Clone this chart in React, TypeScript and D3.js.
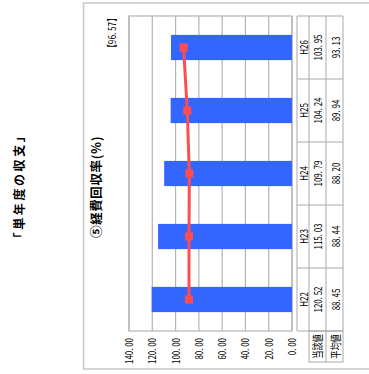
import React from "react";
import * as d3 from "d3";

const categories = ["H22", "H23", "H24", "H25", "H26"];
const actualValues = [120.52, 115.03, 109.79, 104.24, 103.95];
const averageValues = [88.45, 88.44, 88.2, 89.94, 93.13];
const axisTicks = [0, 20, 40, 60, 80, 100, 120, 140];
const seriesNames = ["当該値", "平均値"];
const pageTitle = "「単年度の収支」";
const chartTitle = "⑤経費回収率(%)";
const referenceLabel = "【96. 57】";

const W = 369;
const H = 374;
const FONT = "'Noto Sans CJK JP', 'Noto Sans', sans-serif";
const fmt = (v: number) => d3.format(".2f")(v).replace(".", ". ");

function T({ u, v, children, size = 10, sx = 0.8, anchor = "middle", weight = "normal", ls = 0 }: any) {
  return (
    <text
      transform={`translate(${u},${v}) scale(${sx},1)`}
      textAnchor={anchor}
      fontSize={size}
      fontWeight={weight}
      letterSpacing={ls}
      fontFamily={FONT}
      fill="#000"
    >
      {children}
    </text>
  );
}

export default function App() {
  // unrotated coordinates: u = horizontal, v = vertical; whole drawing rotated -90deg
  const x = d3.scaleBand<string>().domain(categories).range([43, 358]).paddingInner(0.6).paddingOuter(0.3);
  const y = d3.scaleLinear().domain([0, 140]).range([292, 129]);
  const bw = x.bandwidth();
  const step = x.step();
  const cellStart = (c: string) => (x(c) as number) - (step - bw) / 2;
  const [u0, u1] = x.range();
  const line = d3
    .line<number>()
    .x((_, i) => (x(categories[i]) as number) + bw / 2)
    .y((d) => y(d));

  const gridColor = "#b4b4b4";
  const tableColor = "#a8a8a8";
  const rowV = [297, 309, 326, 343];

  return (
    <svg width={W} height={H} style={{ position: "absolute", left: 0, top: 0, background: "#fff" }}>
      <rect x={0} y={0} width={W} height={H} fill="#fff" />
      <g transform={`translate(0,${H}) rotate(-90)`}>
        {/* outer frame */}
        <rect x={5} y={83.5} width={366} height={320} fill="none" stroke="#c8c8c8" strokeWidth={1.5} />
        <T u={188} v={24} size={12} sx={1} weight="bold" ls={2.6}>{pageTitle}</T>
        <T u={187} v={100.5} size={12.5} sx={1} weight="bold" ls={0.6}>{chartTitle}</T>
        <T u={341} v={116} size={10.5} sx={0.78}>{referenceLabel}</T>

        {/* gridlines */}
        {axisTicks.map((t) => (
          <line key={t} x1={u0} x2={u1} y1={y(t)} y2={y(t)} stroke={gridColor} strokeWidth={1.2} />
        ))}
        <rect x={u0} y={y(140)} width={u1 - u0} height={y(0) - y(140)} fill="none" stroke={gridColor} strokeWidth={1.2} />
        {axisTicks.map((t) => (
          <T key={"l" + t} u={36} v={y(t) + 4} size={11} sx={0.72} anchor="end">{fmt(t)}</T>
        ))}

        {/* bars */}
        {categories.map((c, i) => (
          <rect key={c} x={x(c) as number} width={bw} y={y(actualValues[i])} height={y(0) - y(actualValues[i])} fill="#3366ff" />
        ))}
        {/* average line */}
        <path d={line(averageValues) as string} fill="none" stroke="#ff4d4f" strokeWidth={3} />
        {categories.map((c, i) => (
          <rect key={"m" + c} x={(x(c) as number) + bw / 2 - 4} y={y(averageValues[i]) - 4} width={8} height={8} fill="#ff4d4f" />
        ))}

        {/* data table */}
        {rowV.map((v, k) => (
          <line key={"rv" + k} x1={u0} x2={u1} y1={v} y2={v} stroke={tableColor} strokeWidth={1} />
        ))}
        {categories.map((c) => (
          <line key={"cs" + c} x1={cellStart(c)} x2={cellStart(c)} y1={rowV[0]} y2={rowV[3]} stroke={tableColor} strokeWidth={1} />
        ))}
        <line x1={u1} x2={u1} y1={rowV[0]} y2={rowV[3]} stroke={tableColor} strokeWidth={1} />
        {/* legend cells */}
        <rect x={12} y={rowV[1]} width={u0 - 12} height={rowV[3] - rowV[1]} fill="none" stroke={tableColor} strokeWidth={1} />
        <line x1={12} x2={u0} y1={rowV[2]} y2={rowV[2]} stroke={tableColor} strokeWidth={1} />
        <T u={(12 + u0) / 2} v={322} size={11} sx={0.75}>{seriesNames[0]}</T>
        <T u={(12 + u0) / 2} v={339.5} size={11} sx={0.75}>{seriesNames[1]}</T>

        {categories.map((c, i) => {
          const cu = (x(c) as number) + bw / 2;
          return (
            <g key={"t" + c}>
              <T u={cu} v={307.5} size={11} sx={0.72}>{c}</T>
              <T u={cu} v={322} size={11} sx={0.72}>{fmt(actualValues[i])}</T>
              <T u={cu} v={339.5} size={11} sx={0.72}>{fmt(averageValues[i])}</T>
            </g>
          );
        })}
      </g>
    </svg>
  );
}
